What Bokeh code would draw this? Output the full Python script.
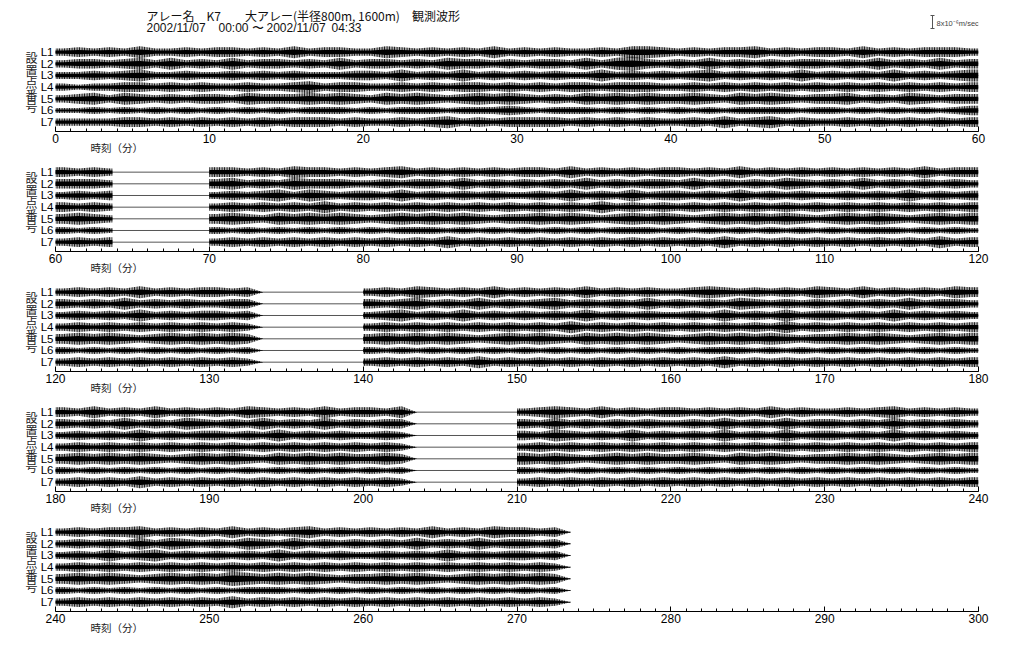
import numpy as np
from bokeh.plotting import figure
from bokeh.layouts import column
from bokeh.models import Range1d, FixedTicker, Title
from bokeh.core.properties import value
from bokeh.embed import file_html
from bokeh.resources import INLINE

# ---------------- data ----------------
TITLE1 = "アレー名\u3000K7\u3000\u3000大アレー(半径800m, 1600m)\u3000観測波形"
TITLE2 = ["2002/11/07", "00:00", "〜", "2002/11/07", "04:33"]
SCALE_LABEL = "8x10\u207b\u2076m/sec"
STATIONS = ["L1", "L2", "L3", "L4", "L5", "L6", "L7"]
YLABEL_CHARS = ["設", "置", "点", "番", "号"]
XLABEL = "時刻（分）"
PANEL_STARTS = [0, 60, 120, 180, 240]
PANEL_LEN = 60
RECORD_INTERVALS = [(0, 63.7), (70, 133.6), (140, 203.6), (210, 273.5)]

# per-minute envelope level (0 = no data), minutes 0..279
AMP_L1 = "".join([
    "3434353343", "4434353443", "3543434353", "4343343554", "3434453434", "4353434443",
    "4343000000", "4434354434", "3453434343", "4435343434", "4343534343", "4343435344",
    "3434353434", "4340000000", "3435434353", "4343534343", "3454343435", "4353434354",
    "4353435343", "4354343534", "4350000000", "3454353434", "4343435343", "3434534343",
    "3434453434", "3534345343", "4343534354", "4340000000"])
AMP_L2 = "".join([
    "3443453534", "3534434353", "4434354434", "3443535643", "4353434344", "3435343534",
    "4443000000", "4534354443", "3434435343", "4343534344", "3534343543", "4353434343",
    "4343534343", "3440000000", "4345343534", "3453434353", "4343543434", "3434353443",
    "4343534354", "3435343534", "3440000000", "4353434343", "3435343534", "4343534343",
    "3434353543", "4354353434", "3435343534", "4340000000"])
AMP_L3 = "".join([
    "3343453343", "3434343334", "4353435343", "4343353434", "3453434353", "4343534345",
    "3434000000", "3434535434", "4353434343", "3435343534", "4343534343", "3434353434",
    "3434353434", "4340000000", "3453435343", "4343534343", "3435343534", "4343534343",
    "3434353434", "4343534343", "3430000000", "4354343534", "3435343534", "4343534343",
    "3435345343", "4343534343", "3434353434", "4340000000"])
AMP_L4 = "".join([
    "3233443434", "3343345344", "3343434434", "3434434443", "3434343434", "3434343434",
    "4343000000", "3434343534", "3434343434", "3434353434", "3434343434", "3434343434",
    "3434343434", "3430000000", "3434343434", "3435343434", "3434343534", "3434343434",
    "3434343434", "3434343434", "3430000000", "3434343434", "3434343434", "3434343434",
    "3434343434", "3434343434", "3434343434", "3430000000"])
AMP_L5 = "".join([
    "3453543434", "4354445454", "3545434545", "4343545454", "4543545434", "4534354344",
    "4543000000", "4543545454", "3454545434", "4545434545", "4345454543", "4545434545",
    "4545434545", "4540000000", "4545454345", "4543545454", "3454545434", "4545434545",
    "4545454345", "4543545454", "4540000000", "5454345454", "4543545434", "4545434545",
    "4545434545", "4654545434", "4545434545", "4540000000"])
AMP_L6 = "".join([
    "2232323232", "3232323332", "3233323334", "3233323232", "3232333323", "3232323234",
    "3232000000", "3232323232", "3233323232", "3232323332", "3232323232", "3233323232",
    "3232323232", "3230000000", "3232323232", "3232323232", "3233323232", "3232323232",
    "3232323232", "3232323232", "3230000000", "3232323232", "3232323232", "3232323232",
    "3232323232", "3233323232", "3232323232", "3230000000"])
AMP_L7 = "".join([
    "3333443434", "3434344434", "3343453434", "4443434343", "3435345343", "3434343434",
    "3434000000", "3434343434", "3434353434", "3434343434", "3435343434", "3434343534",
    "3434343434", "3430000000", "3434343534", "3434343434", "3435343434", "3434343434",
    "3434353434", "3434343434", "3430000000", "3434343434", "3434343434", "3434343434",
    "3434343434", "3534343434", "3434343434", "3430000000"])
AMPS = [AMP_L1, AMP_L2, AMP_L3, AMP_L4, AMP_L5, AMP_L6, AMP_L7]

# ---------------- layout ----------------
AXIS_X0 = 55          # page x where each panel's time axis starts
FRAME_X0 = 20         # page x where the plotting frame starts (room for labels)
AXIS_W = 923
RIGHT = 30
W = AXIS_X0 + AXIS_W + RIGHT
FRAME_H = 86
BOTTOM = 34
TITLE_H = 45
Y_BOT, Y_TOP = 7.8, 0.43
PX_X = AXIS_W / PANEL_LEN
PX_Y = FRAME_H / (Y_BOT - Y_TOP)
AMP_SCALE = 1.0 / PX_Y  # one level ~ one pixel
CJK = "Noto Sans CJK JP"
LAT = "Liberation Sans"

# ---- title strip ----
t = figure(width=W, height=TITLE_H, x_range=Range1d(FRAME_X0, AXIS_X0 + AXIS_W),
           y_range=Range1d(TITLE_H, 0),
           output_backend="svg", toolbar_location=None,
           x_axis_location=None, y_axis_location=None,
           min_border_left=FRAME_X0, min_border_right=RIGHT,
           min_border_top=0, min_border_bottom=0)
t.xgrid.visible = False
t.ygrid.visible = False
t.outline_line_color = None
t.text(x=[146], y=[15], text=[TITLE1],
       text_font=value(CJK), text_font_size="12px", text_color="#111111",
       text_align="left", text_baseline="middle")
t.text(x=[146, 218, 251, 266, 331], y=[27] * 5, text=TITLE2,
       text_font=value(LAT), text_font_size="12px", text_color="#111111",
       text_align="left", text_baseline="middle")
# scale bar
t.segment(x0=[932, 930, 930], y0=[15, 15, 28], x1=[932, 934, 934], y1=[28, 15, 28],
          line_color="#555555", line_width=1)
t.text(x=[936], y=[23], text=[SCALE_LABEL],
       text_font=value(LAT), text_font_size="7.5px", text_color="#444444",
       text_align="left", text_baseline="middle")

figs = [t]
for i, s in enumerate(PANEL_STARTS):
    e = s + PANEL_LEN
    x0 = s - (AXIS_X0 - FRAME_X0) / PX_X
    p = figure(width=W, height=FRAME_H + BOTTOM,
               x_range=Range1d(x0, e), y_range=Range1d(Y_BOT, Y_TOP),
               output_backend="svg", toolbar_location=None, y_axis_location=None,
               min_border_left=FRAME_X0, min_border_right=RIGHT,
               min_border_top=0, min_border_bottom=BOTTOM)
    p.xgrid.visible = False
    p.ygrid.visible = False
    p.outline_line_color = None

    xa = p.xaxis[0]
    xa.bounds = (s, e)
    xa.ticker = FixedTicker(ticks=list(range(s, e + 1, 10)),
                            minor_ticks=list(range(s, e + 1)))
    xa.axis_line_color = "black"
    xa.major_tick_in = 5
    xa.major_tick_out = 0
    xa.minor_tick_in = 3
    xa.minor_tick_out = 0
    xa.major_tick_line_color = "black"
    xa.minor_tick_line_color = "black"
    xa.major_label_text_font = LAT
    xa.major_label_text_font_size = "12px"
    xa.major_label_text_color = "black"
    xa.major_label_standoff = 2

    p.add_layout(Title(text=XLABEL, align="left", offset=90 - FRAME_X0, standoff=-15,
                       text_font=CJK, text_font_size="10.5px", text_font_style="normal",
                       text_color="#222222"), "below")

    # station labels and stacked y label
    p.text(x=[s - 2 / PX_X] * 7, y=list(range(1, 8)), text=STATIONS,
           text_font=value(LAT), text_font_size="11.5px", text_color="black",
           text_align="right", text_baseline="middle")
    p.text(x=[s - 24 / PX_X] * 5, y=[1.5 + j * 1.03 for j in range(5)], text=YLABEL_CHARS,
           text_font=value(CJK), text_font_size="12px", text_color="#222222",
           text_align="center", text_baseline="middle")

    for k in range(7):
        yk = k + 1
        amp = AMPS[k]
        bl0, bl1 = max(s, RECORD_INTERVALS[0][0]), min(e, RECORD_INTERVALS[-1][1])
        if bl1 > bl0:
            p.line([bl0, bl1], [yk, yk], line_width=1, line_color="#555555")
        for a, b in RECORD_INTERVALS:
            a2, b2 = max(a, s), min(b, e)
            if b2 <= a2:
                continue
            m0, m1 = int(np.floor(a2)), int(np.ceil(b2)) - 1
            xs = [a2] + [m + 0.5 for m in range(m0, m1 + 1)] + [b2]
            lv = [int(amp[m0])] + [int(amp[m]) for m in range(m0, m1 + 1)] + [int(amp[m1])]
            lv = np.array(lv, dtype=float)
            outer = lv * 1.2 * AMP_SCALE
            inner = lv * 0.55 * AMP_SCALE
            p.varea(x=xs, y1=yk - outer, y2=yk + outer, fill_color="#000000", fill_alpha=0.35,
                    hatch_pattern="vertical_line", hatch_color="#000000",
                    hatch_scale=2.5, hatch_weight=1, hatch_alpha=1.0)
            p.varea(x=xs, y1=yk - inner, y2=yk + inner, fill_color="#000000", fill_alpha=1.0)
    figs.append(p)

layout = column(*figs, spacing=0)
open("out.html", "w").write(file_html(layout, INLINE))
